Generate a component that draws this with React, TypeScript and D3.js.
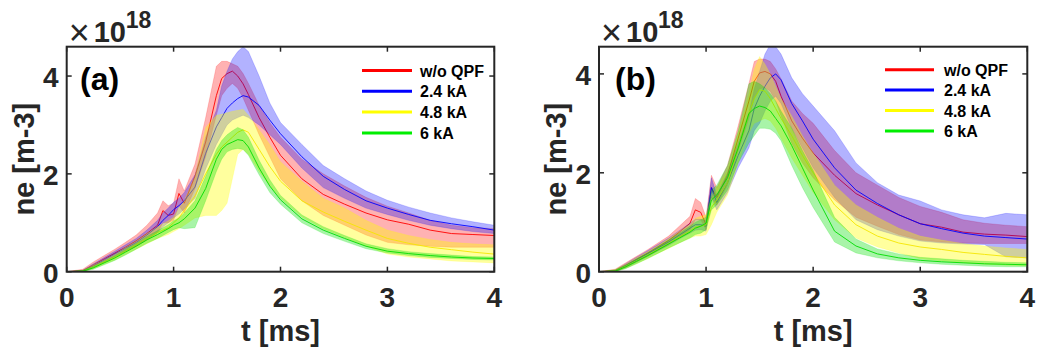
import React from 'react';
import * as d3 from 'd3';

// ---------------- data (ne in units of 1e18 m^-3, t in ms) ----------------
const T = [0, 0.15, 0.25, 0.35, 0.45, 0.55, 0.65, 0.75, 0.85, 0.9, 0.95, 1.0, 1.05, 1.1, 1.2, 1.3, 1.4, 1.45, 1.5, 1.55, 1.6, 1.65, 1.7, 1.8, 1.9, 2.0, 2.2, 2.4, 2.6, 2.8, 3.0, 3.2, 3.4, 3.6, 3.8, 4.0];

const SERIES_NAMES = ['w/o QPF', '2.4 kA', '4.8 kA', '6 kA'];
const X_TICKS = [0, 1, 2, 3, 4];
const Y_TICKS = [0, 2, 4];
const PANEL_LABELS = ['(a)', '(b)'];

// panel (a)
const A_RED_MEAN = [0, 0.02, 0.14, 0.26, 0.38, 0.5, 0.63, 0.78, 0.95, 1.25, 1.15, 1.18, 1.6, 1.4, 1.95, 2.65, 3.6, 3.95, 4.05, 4.1, 4.0, 3.84, 3.62, 3.15, 2.75, 2.38, 1.9, 1.58, 1.38, 1.2, 1.06, 0.97, 0.85, 0.78, 0.76, 0.74];
const A_RED_LO = [0, 0, 0.1, 0.2, 0.3, 0.42, 0.52, 0.65, 0.8, 1.0, 1.0, 1.05, 1.35, 1.2, 1.7, 2.35, 3.2, 3.6, 3.75, 3.85, 3.75, 3.55, 3.3, 2.8, 2.35, 1.9, 1.45, 1.15, 0.95, 0.75, 0.6, 0.55, 0.52, 0.5, 0.5, 0.5];
const A_RED_HI = [0, 0.05, 0.2, 0.33, 0.46, 0.6, 0.75, 0.95, 1.2, 1.45, 1.35, 1.4, 1.9, 1.65, 2.2, 3.15, 4.2, 4.3, 4.3, 4.25, 4.2, 4.05, 3.85, 3.4, 3.05, 2.75, 2.3, 2.0, 1.75, 1.52, 1.34, 1.2, 1.05, 0.95, 0.9, 0.88];

const A_BLUE_MEAN = [0, 0.01, 0.12, 0.24, 0.36, 0.48, 0.6, 0.75, 0.92, 1.05, 1.15, 1.27, 1.35, 1.45, 1.73, 2.42, 2.96, 3.15, 3.34, 3.45, 3.54, 3.6, 3.57, 3.4, 3.1, 2.82, 2.35, 1.95, 1.68, 1.45, 1.3, 1.17, 1.05, 0.98, 0.92, 0.85];
const A_BLUE_LO = [0, 0, 0.08, 0.19, 0.3, 0.42, 0.53, 0.66, 0.8, 0.92, 1.0, 1.1, 1.18, 1.28, 1.5, 2.1, 2.6, 2.8, 3.0, 3.1, 3.15, 3.2, 3.15, 3.0, 2.8, 2.6, 2.12, 1.72, 1.5, 1.3, 1.17, 1.05, 0.95, 0.88, 0.82, 0.78];
const A_BLUE_HI = [0, 0.03, 0.16, 0.29, 0.42, 0.55, 0.68, 0.85, 1.05, 1.2, 1.3, 1.42, 1.5, 1.62, 1.98, 2.75, 3.3, 3.8, 4.1, 4.35, 4.5, 4.6, 4.5, 4.0, 3.45, 3.05, 2.6, 2.17, 1.9, 1.65, 1.46, 1.32, 1.2, 1.1, 1.02, 0.95];

const A_YEL_MEAN = [0, 0.01, 0.1, 0.2, 0.3, 0.42, 0.55, 0.68, 0.8, 0.85, 0.9, 1.0, 1.1, 1.25, 1.55, 2.0, 2.4, 2.55, 2.65, 2.75, 2.85, 2.9, 2.85, 2.5, 2.15, 1.85, 1.45, 1.22, 1.03, 0.85, 0.68, 0.58, 0.5, 0.45, 0.4, 0.36];
const A_YEL_LO = [0, 0, 0.06, 0.15, 0.24, 0.35, 0.46, 0.57, 0.68, 0.72, 0.76, 0.82, 0.88, 0.95, 1.1, 1.15, 1.15, 1.25, 1.4, 1.9, 2.4, 2.5, 2.4, 2.05, 1.75, 1.5, 1.12, 0.88, 0.7, 0.52, 0.36, 0.3, 0.26, 0.22, 0.2, 0.18];
const A_YEL_HI = [0, 0.03, 0.14, 0.25, 0.36, 0.5, 0.63, 0.78, 0.92, 0.98, 1.04, 1.12, 1.3, 1.45, 1.95, 2.95, 3.2, 3.22, 3.25, 3.28, 3.3, 3.32, 3.2, 2.9, 2.6, 2.25, 1.85, 1.5, 1.3, 1.05, 0.85, 0.74, 0.66, 0.6, 0.57, 0.55];

const A_GRN_MEAN = [0, 0.01, 0.08, 0.18, 0.28, 0.4, 0.52, 0.65, 0.76, 0.82, 0.88, 0.95, 1.0, 1.08, 1.3, 1.7, 2.3, 2.5, 2.6, 2.65, 2.7, 2.68, 2.55, 2.12, 1.75, 1.47, 1.08, 0.85, 0.68, 0.52, 0.42, 0.37, 0.33, 0.3, 0.28, 0.27];
const A_GRN_LO = [0, 0, 0.05, 0.14, 0.23, 0.34, 0.46, 0.58, 0.68, 0.74, 0.8, 0.86, 0.9, 0.88, 0.9, 1.45, 2.05, 2.3, 2.45, 2.5, 2.52, 2.5, 2.38, 1.98, 1.62, 1.38, 1.0, 0.78, 0.62, 0.47, 0.38, 0.33, 0.29, 0.27, 0.25, 0.24];
const A_GRN_HI = [0, 0.03, 0.11, 0.22, 0.33, 0.46, 0.58, 0.72, 0.84, 0.9, 0.96, 1.04, 1.1, 1.2, 1.45, 1.95, 2.5, 2.68, 2.8, 2.88, 2.95, 2.9, 2.75, 2.28, 1.88, 1.56, 1.16, 0.92, 0.74, 0.57, 0.47, 0.41, 0.37, 0.34, 0.31, 0.3];

// panel (b)
const B_RED_MEAN = [0, 0.02, 0.13, 0.25, 0.37, 0.5, 0.63, 0.8, 0.98, 1.25, 1.2, 0.95, 1.7, 1.5, 1.95, 2.7, 3.45, 3.85, 4.02, 4.05, 4.0, 3.85, 3.55, 3.05, 2.7, 2.4, 1.95, 1.58, 1.35, 1.15, 0.97, 0.9, 0.8, 0.76, 0.74, 0.71];
const B_RED_LO = [0, 0, 0.09, 0.2, 0.31, 0.43, 0.55, 0.7, 0.85, 1.05, 1.05, 0.85, 1.5, 1.35, 1.75, 2.45, 3.1, 3.5, 3.7, 3.72, 3.65, 3.45, 3.15, 2.6, 2.2, 1.9, 1.45, 1.1, 0.92, 0.75, 0.64, 0.6, 0.58, 0.57, 0.57, 0.57];
const B_RED_HI = [0, 0.05, 0.18, 0.31, 0.44, 0.58, 0.72, 0.92, 1.12, 1.48, 1.4, 1.1, 1.95, 1.7, 2.15, 2.95, 3.8, 4.25, 4.3, 4.3, 4.25, 4.1, 3.9, 3.45, 3.2, 3.0, 2.45, 2.0, 1.75, 1.5, 1.32, 1.2, 1.05, 0.98, 0.94, 0.91];

const B_BLUE_MEAN = [0, 0.01, 0.12, 0.24, 0.36, 0.48, 0.6, 0.74, 0.88, 0.95, 0.95, 0.92, 1.7, 1.4, 1.8, 2.35, 2.85, 3.3, 3.55, 3.75, 3.92, 4.0, 3.88, 3.4, 3.05, 2.68, 2.1, 1.65, 1.38, 1.15, 0.97, 0.87, 0.78, 0.72, 0.69, 0.66];
const B_BLUE_LO = [0, 0, 0.08, 0.19, 0.3, 0.42, 0.53, 0.66, 0.78, 0.84, 0.85, 0.82, 1.5, 1.25, 1.6, 2.1, 2.5, 2.85, 3.0, 3.25, 3.45, 3.55, 3.4, 2.9, 2.5, 2.1, 1.5, 1.05, 0.85, 0.72, 0.62, 0.58, 0.56, 0.55, 0.3, 0.28];
const B_BLUE_HI = [0, 0.03, 0.16, 0.29, 0.42, 0.55, 0.68, 0.83, 0.98, 1.06, 1.06, 1.03, 1.9, 1.55, 2.0, 2.6, 3.2, 3.7, 4.05, 4.4, 4.6, 4.55, 4.4, 3.92, 3.6, 3.35, 2.85, 2.2, 1.8, 1.55, 1.43, 1.25, 1.15, 1.09, 1.18, 1.15];

const B_YEL_MEAN = [0, 0.01, 0.11, 0.22, 0.33, 0.45, 0.57, 0.7, 0.82, 0.9, 0.92, 0.95, 1.3, 1.45, 1.8, 2.5, 3.2, 3.5, 3.68, 3.65, 3.5, 3.3, 3.1, 2.75, 2.35, 2.0, 1.35, 0.95, 0.72, 0.58, 0.5, 0.45, 0.39, 0.35, 0.31, 0.28];
const B_YEL_LO = [0, 0, 0.07, 0.16, 0.26, 0.37, 0.47, 0.58, 0.68, 0.72, 0.72, 0.75, 0.95, 1.2, 1.55, 2.2, 2.8, 3.0, 3.05, 3.1, 3.05, 2.9, 2.7, 2.3, 1.95, 1.6, 1.05, 0.68, 0.5, 0.38, 0.26, 0.22, 0.18, 0.15, 0.13, 0.12];
const B_YEL_HI = [0, 0.04, 0.15, 0.28, 0.4, 0.53, 0.67, 0.82, 0.96, 1.08, 1.12, 1.15, 1.5, 1.7, 2.05, 2.8, 3.6, 4.1, 4.35, 4.2, 4.0, 3.75, 3.5, 3.15, 2.75, 2.4, 1.75, 1.35, 1.1, 0.88, 0.72, 0.64, 0.57, 0.52, 0.48, 0.45];

const B_GRN_MEAN = [0, 0.01, 0.1, 0.21, 0.32, 0.44, 0.56, 0.68, 0.8, 0.88, 0.92, 0.98, 1.45, 1.55, 1.9, 2.5, 3.2, 3.3, 3.35, 3.32, 3.25, 3.1, 2.95, 2.55, 2.1, 1.65, 0.82, 0.52, 0.36, 0.28, 0.23, 0.2, 0.18, 0.16, 0.15, 0.14];
const B_GRN_LO = [0, 0, 0.06, 0.16, 0.26, 0.37, 0.48, 0.58, 0.68, 0.75, 0.78, 0.85, 1.25, 1.35, 1.65, 2.2, 2.6, 2.75, 2.9, 2.9, 2.88, 2.8, 2.65, 2.15, 1.7, 1.3, 0.6, 0.38, 0.28, 0.22, 0.18, 0.15, 0.13, 0.11, 0.1, 0.1];
const B_GRN_HI = [0, 0.04, 0.14, 0.26, 0.38, 0.51, 0.64, 0.78, 0.92, 1.0, 1.05, 1.1, 1.65, 1.75, 2.15, 2.85, 3.8, 3.85, 3.8, 3.72, 3.6, 3.45, 3.25, 2.9, 2.45, 2.05, 1.1, 0.66, 0.46, 0.36, 0.29, 0.26, 0.23, 0.21, 0.19, 0.18];

// ---------------- styles ----------------
const FONT = '"Liberation Sans", Arial, Helvetica, sans-serif';
const AXIS_COLOR = '#262626';
const LINE_COLORS = ['#ff0000', '#0000ff', '#f5e600', '#00dd00'];
const FILL_COLORS = ['#ff0000', '#0000ff', '#ffff00', '#00e000'];
const FILL_OPACITY = [0.3, 0.3, 0.38, 0.34];
const LEGEND_COLORS = ['#ff0000', '#0000ff', '#ffff00', '#00ee00'];

type Series = { mean: number[]; lo: number[]; hi: number[] };

type PanelDef = {
  id: string;
  left: number;
  right: number;
  top: number;
  bottom: number;
  ymax: number;
  series: Series[];
  label: string;
  labelDx: number;
  legLine0: number;
  legLine1: number;
  legText: number;
  legY0: number;
  legDy: number;
};

const PANELS: PanelDef[] = [
  {
    id: 'a', left: 66.7, right: 494.3, top: 46.7, bottom: 271.7, ymax: 4.6,
    series: [
      { mean: A_RED_MEAN, lo: A_RED_LO, hi: A_RED_HI },
      { mean: A_BLUE_MEAN, lo: A_BLUE_LO, hi: A_BLUE_HI },
      { mean: A_YEL_MEAN, lo: A_YEL_LO, hi: A_YEL_HI },
      { mean: A_GRN_MEAN, lo: A_GRN_LO, hi: A_GRN_HI },
    ],
    label: PANEL_LABELS[0], labelDx: 13.3,
    legLine0: 362, legLine1: 412, legText: 420, legY0: 70.5, legDy: 20.8,
  },
  {
    id: 'b', left: 599, right: 1027.3, top: 46.7, bottom: 271.7, ymax: 4.55,
    series: [
      { mean: B_RED_MEAN, lo: B_RED_LO, hi: B_RED_HI },
      { mean: B_BLUE_MEAN, lo: B_BLUE_LO, hi: B_BLUE_HI },
      { mean: B_YEL_MEAN, lo: B_YEL_LO, hi: B_YEL_HI },
      { mean: B_GRN_MEAN, lo: B_GRN_LO, hi: B_GRN_HI },
    ],
    label: PANEL_LABELS[1], labelDx: 16,
    legLine0: 885, legLine1: 934, legText: 944, legY0: 69.7, legDy: 20.4,
  },
];

function Panel({ p }: { p: PanelDef }) {
  const x = d3.scaleLinear().domain([0, 4]).range([p.left, p.right]);
  const y = d3.scaleLinear().domain([0, p.ymax]).range([p.bottom, p.top]);
  const clipId = `clip-${p.id}`;
  const tick = 5;

  return (
    <g>
      <defs>
        <clipPath id={clipId}>
          <rect x={p.left} y={p.top} width={p.right - p.left} height={p.bottom - p.top} />
        </clipPath>
      </defs>
      <g clipPath={`url(#${clipId})`}>
        {p.series.map((s, k) => {
          const area = d3
            .area<number>()
            .x((_, i) => x(T[i]))
            .y0((_, i) => y(s.lo[i]))
            .y1((_, i) => y(s.hi[i]));
          const line = d3
            .line<number>()
            .x((_, i) => x(T[i]))
            .y((v) => y(v));
          return (
            <g key={k}>
              <path d={area(s.mean) || ''} fill={FILL_COLORS[k]} fillOpacity={FILL_OPACITY[k]} stroke="none" />
              <path d={line(s.lo) || ''} fill="none" stroke={FILL_COLORS[k]} strokeOpacity={0.25} strokeWidth={0.7} />
              <path d={line(s.hi) || ''} fill="none" stroke={FILL_COLORS[k]} strokeOpacity={0.25} strokeWidth={0.7} />
              <path d={line(s.mean) || ''} fill="none" stroke={LINE_COLORS[k]} strokeWidth={0.9} />
            </g>
          );
        })}
      </g>

      {/* ticks */}
      {X_TICKS.map((t) => (
        <g key={`xt${t}`}>
          <line x1={x(t)} x2={x(t)} y1={p.bottom} y2={p.bottom - tick} stroke={AXIS_COLOR} strokeWidth={1.5} />
          <line x1={x(t)} x2={x(t)} y1={p.top} y2={p.top + tick} stroke={AXIS_COLOR} strokeWidth={1.5} />
          <text x={x(t)} y={307} textAnchor="middle" fontFamily={FONT} fontWeight="bold" fontSize={28} fill={AXIS_COLOR}>
            {t}
          </text>
        </g>
      ))}
      {Y_TICKS.map((v) => (
        <g key={`yt${v}`}>
          <line x1={p.left} x2={p.left + tick} y1={y(v)} y2={y(v)} stroke={AXIS_COLOR} strokeWidth={1.5} />
          <line x1={p.right} x2={p.right - tick} y1={y(v)} y2={y(v)} stroke={AXIS_COLOR} strokeWidth={1.5} />
          <text x={p.left - 8} y={y(v) + 11} textAnchor="end" fontFamily={FONT} fontWeight="bold" fontSize={28} fill={AXIS_COLOR}>
            {v}
          </text>
        </g>
      ))}

      {/* frame */}
      <rect x={p.left} y={p.top} width={p.right - p.left} height={p.bottom - p.top} fill="none" stroke={AXIS_COLOR} strokeWidth={2} />

      {/* exponent */}
      <text x={p.left + 2} y={45} fontFamily={FONT} fontSize={36} fill={AXIS_COLOR}>×</text>
      <text x={p.left + 27} y={41.7} fontFamily={FONT} fontWeight="bold" fontSize={29} fill={AXIS_COLOR}>10</text>
      <text x={p.left + 59} y={28.4} fontFamily={FONT} fontWeight="bold" fontSize={23} fill={AXIS_COLOR}>18</text>

      {/* axis labels */}
      <text x={(p.left + p.right) / 2} y={341} textAnchor="middle" fontFamily={FONT} fontWeight="bold" fontSize={29} fill={AXIS_COLOR}>
        t [ms]
      </text>
      <text
        transform={`translate(${p.left - 33},${(p.top + p.bottom) / 2}) rotate(-90)`}
        textAnchor="middle"
        fontFamily={FONT}
        fontWeight="bold"
        fontSize={29}
        fill={AXIS_COLOR}
      >
        ne [m-3]
      </text>

      {/* panel label */}
      <text x={p.left + p.labelDx} y={90} fontFamily={FONT} fontWeight="bold" fontSize={32} fill="#000">
        {p.label}
      </text>

      {/* legend */}
      {SERIES_NAMES.map((name, k) => {
        const yy = p.legY0 + k * p.legDy;
        return (
          <g key={name}>
            <line x1={p.legLine0} x2={p.legLine1} y1={yy} y2={yy} stroke={LEGEND_COLORS[k]} strokeWidth={3} />
            <text x={p.legText} y={yy + 6} fontFamily={FONT} fontWeight="bold" fontSize={16} fill="#000">
              {name}
            </text>
          </g>
        );
      })}
    </g>
  );
}

export default function App() {
  return (
    <svg
      width={1040}
      height={354}
      viewBox="0 0 1040 354"
      style={{ position: 'absolute', left: 0, top: 0, background: '#fff' }}
    >
      <rect x={0} y={0} width={1040} height={354} fill="#fff" />
      {PANELS.map((p) => (
        <Panel key={p.id} p={p} />
      ))}
    </svg>
  );
}
